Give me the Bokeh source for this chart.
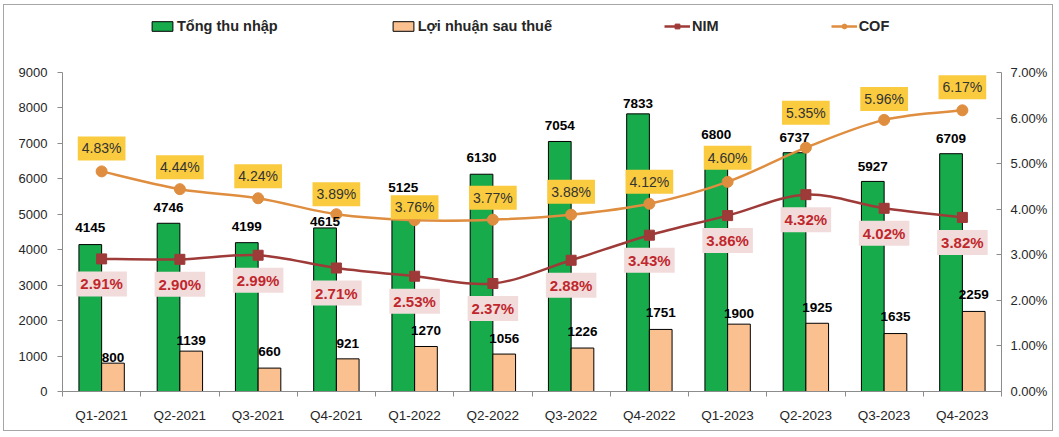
import numpy as np
from bokeh.plotting import figure
from bokeh.models import Range1d, LinearAxis, FixedTicker, NumeralTickFormatter, Legend, LegendItem
from bokeh.core.properties import value
from bokeh.embed import file_html
from bokeh.resources import INLINE

# ---------------- data ----------------
quarters = ["Q1-2021", "Q2-2021", "Q3-2021", "Q4-2021", "Q1-2022", "Q2-2022",
            "Q3-2022", "Q4-2022", "Q1-2023", "Q2-2023", "Q3-2023", "Q4-2023"]
total_income = [4145, 4746, 4199, 4615, 5125, 6130, 7054, 7833, 6800, 6737, 5927, 6709]
net_profit = [800, 1139, 660, 921, 1270, 1056, 1226, 1751, 1900, 1925, 1635, 2259]
nim = [2.91, 2.90, 2.99, 2.71, 2.53, 2.37, 2.88, 3.43, 3.86, 4.32, 4.02, 3.82]
cof = [4.83, 4.44, 4.24, 3.89, 3.76, 3.77, 3.88, 4.12, 4.60, 5.35, 5.96, 6.17]
left_ticks = [0, 1000, 2000, 3000, 4000, 5000, 6000, 7000, 8000, 9000]
right_ticks = [0.0, 0.01, 0.02, 0.03, 0.04, 0.05, 0.06, 0.07]
left_max = 9000
right_max = 0.07

# label placement (screen pixel offsets, style only)
income_dy = [-17, -16, -16, -6, -22, -17, -16, -10, -16, -15, -15, -15]
profit_dy = [-6, -11, -17, -15, -16, -16, -17, -17, -11, -16, -17, -17]
cof_dy = [-23, -22, -22, -20, -13, -22, -23, -22, -24, -35, -21, -23]
nim_dy = 25

FONT = "Liberation Sans"
GREEN = "#17AB4C"
TAN = "#FAC08F"
NIM_C = "#9E3A38"
COF_C = "#DF8D3F"
AXIS_C = "#8C8C8C"
TXT = "#262626"

# frame spans pixel rows 10..391 of the page; axes occupy rows 72..391
headroom = (391 - 10) / (391 - 72)

n = len(quarters)
centers = [i + 0.5 for i in range(n)]
green_x = [c - 0.145 for c in centers]
tan_x = [c + 0.145 for c in centers]
nim_f = [v / 100 for v in nim]
cof_f = [v / 100 for v in cof]

p = figure(width=1050, height=427, x_range=Range1d(0, n),
           y_range=Range1d(0, left_max * headroom),
           output_backend="svg", toolbar_location=None,
           min_border_left=58, min_border_right=53, min_border_top=5, min_border_bottom=41)
p.styles = {"border": "1px solid #A6A6A6", "margin-left": "3px", "margin-top": "4px"}
p.extra_y_ranges = {"pct": Range1d(0, right_max * headroom)}
p.xgrid.visible = False
p.ygrid.visible = False
p.outline_line_color = None
p.background_fill_color = "white"
p.border_fill_color = "white"

# x axis
xa = p.xaxis[0]
xa.ticker = FixedTicker(ticks=centers, minor_ticks=list(range(n + 1)))
xa.major_label_overrides = {c: q for c, q in zip(centers, quarters)}
xa.major_tick_out = 0
xa.major_tick_in = 0
xa.minor_tick_out = 5
xa.minor_tick_in = 0
xa.minor_tick_line_color = AXIS_C
xa.axis_line_color = AXIS_C
xa.major_label_standoff = 11
xa.major_label_text_font = FONT
xa.major_label_text_font_size = "13.5px"
xa.major_label_text_color = TXT

# left axis
ya = p.yaxis[0]
ya.ticker = FixedTicker(ticks=left_ticks)
ya.bounds = (0, left_max)
ya.major_tick_out = 5
ya.major_tick_in = 0
ya.minor_tick_out = 0
ya.minor_tick_in = 0
ya.axis_line_color = AXIS_C
ya.major_tick_line_color = AXIS_C
ya.major_label_standoff = 10
ya.major_label_text_font = FONT
ya.major_label_text_font_size = "13px"
ya.major_label_text_color = TXT

# right axis
ra = LinearAxis(y_range_name="pct", ticker=FixedTicker(ticks=right_ticks),
                formatter=NumeralTickFormatter(format="0.00%"), bounds=(0, right_max))
ra.major_tick_out = 0
ra.major_tick_in = 5
ra.minor_tick_out = 0
ra.minor_tick_in = 0
ra.axis_line_color = AXIS_C
ra.major_tick_line_color = AXIS_C
ra.major_label_standoff = 9
ra.major_label_text_font = FONT
ra.major_label_text_font_size = "13px"
ra.major_label_text_color = TXT
p.add_layout(ra, "right")

# bars
g_bar = p.vbar(x=green_x, top=total_income, width=0.29, fill_color=GREEN,
               line_color="black", line_width=1)
t_bar = p.vbar(x=tan_x, top=net_profit, width=0.29, fill_color=TAN,
               line_color="black", line_width=1)


def smooth(xs, ys):
    """Catmull-Rom style bezier control points through the data points."""
    x0, y0, x1, y1, cx0, cy0, cx1, cy1 = [], [], [], [], [], [], [], []
    m = len(xs)
    for i in range(m - 1):
        pa = (xs[max(i - 1, 0)], ys[max(i - 1, 0)])
        pb = (xs[i], ys[i])
        pc = (xs[i + 1], ys[i + 1])
        pd = (xs[min(i + 2, m - 1)], ys[min(i + 2, m - 1)])
        x0.append(pb[0]); y0.append(pb[1]); x1.append(pc[0]); y1.append(pc[1])
        cx0.append(pb[0] + (pc[0] - pa[0]) / 6); cy0.append(pb[1] + (pc[1] - pa[1]) / 6)
        cx1.append(pc[0] - (pd[0] - pb[0]) / 6); cy1.append(pc[1] - (pd[1] - pb[1]) / 6)
    return dict(x0=x0, y0=y0, x1=x1, y1=y1, cx0=cx0, cy0=cy0, cx1=cx1, cy1=cy1)


# COF line
cof_l = p.bezier(**smooth(centers, cof_f), line_color=COF_C, line_width=2.5, y_range_name="pct")
cof_m = p.scatter(centers, cof_f, marker="circle", size=11, fill_color=COF_C,
                  line_color=COF_C, y_range_name="pct")
# NIM line
nim_l = p.bezier(**smooth(centers, nim_f), line_color=NIM_C, line_width=2.5, y_range_name="pct")
nim_m = p.scatter(centers, nim_f, marker="square", size=10, fill_color=NIM_C,
                  line_color=NIM_C, y_range_name="pct")

# bar labels
p.text(x=green_x, y=total_income, text=[str(v) for v in total_income], y_offset=income_dy,
       text_font=value(FONT), text_font_size=value("13.5px"), text_font_style=value("bold"),
       text_align=value("center"), text_baseline=value("middle"), text_color="black")
p.text(x=tan_x, y=net_profit, text=[str(v) for v in net_profit], y_offset=profit_dy,
       text_font=value(FONT), text_font_size=value("13.5px"), text_font_style=value("bold"),
       text_align=value("center"), text_baseline=value("middle"), text_color="black")

# NIM labels
p.text(x=centers, y=nim_f, text=[f"{v:.2f}%" for v in nim], y_offset=nim_dy,
       text_font=value(FONT), text_font_size=value("15px"), text_font_style=value("bold"),
       text_align=value("center"), text_baseline=value("middle"), text_color="#C0272D",
       background_fill_color="#F2DCDB", padding=4, y_range_name="pct")
# COF labels
p.text(x=centers, y=cof_f, text=[f"{v:.2f}%" for v in cof], y_offset=cof_dy,
       text_font=value(FONT), text_font_size=value("14px"),
       text_align=value("center"), text_baseline=value("middle"), text_color="#333333",
       background_fill_color="#FACB3F", padding=4, y_range_name="pct")

# legend
legend = Legend(items=[
    LegendItem(label="Tổng thu nhập", renderers=[g_bar]),
    LegendItem(label="Lợi nhuận sau thuế", renderers=[t_bar]),
    LegendItem(label="NIM", renderers=[nim_l, nim_m]),
    LegendItem(label="COF", renderers=[cof_l, cof_m]),
], orientation="horizontal", location=(87, 357), spacing=112, padding=0, margin=0,
    glyph_width=26, glyph_height=12, label_standoff=2,
    label_text_font=FONT, label_text_font_size="14.5px", label_text_font_style="bold",
    label_text_color=TXT, border_line_alpha=0, background_fill_alpha=0)
p.add_layout(legend, "center")

open("out.html", "w").write(file_html(p, INLINE))
